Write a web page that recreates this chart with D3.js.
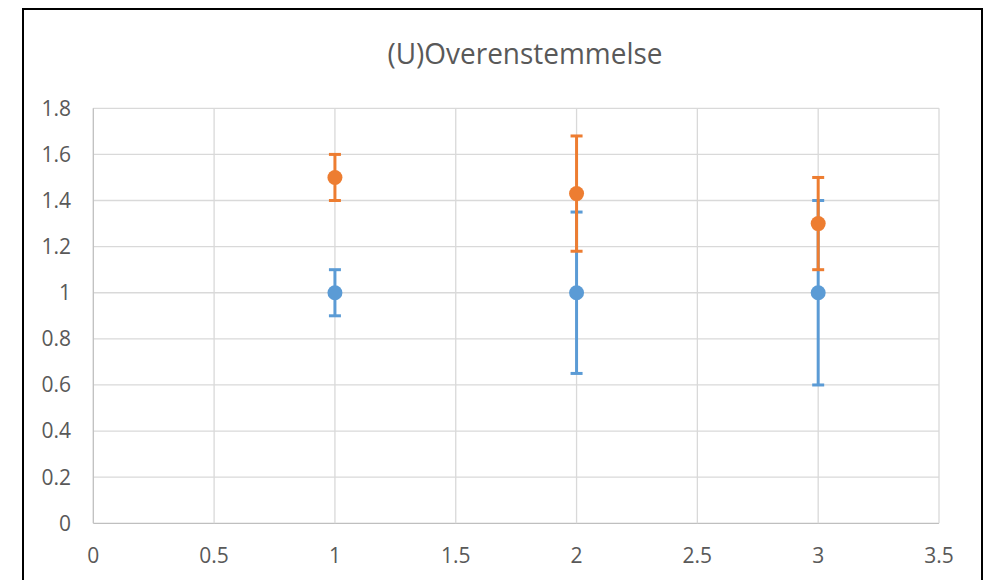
<!DOCTYPE html>
<html>
<head>
<meta charset="utf-8">
<script src="https://cdn.jsdelivr.net/npm/d3@7"></script>
<style>
  body { margin: 0; background: #fff; }
  text { font-family: "Open Sans", sans-serif; fill: #595959; }
</style>
</head>
<body>
<svg width="987" height="580"></svg>
<script>
let svg = d3.select("svg")

// data
let title = "(U)Overenstemmelse"
let xs = [1, 2, 3]
let blueY = [1, 1, 1]
let blueErr = [0.1, 0.35, 0.4]
let orangeY = [1.5, 1.43, 1.3]
let orangeErr = [0.1, 0.25, 0.2]
let xTicks = [0, 0.5, 1, 1.5, 2, 2.5, 3, 3.5]
let yTicks = [0, 0.2, 0.4, 0.6, 0.8, 1, 1.2, 1.4, 1.6, 1.8]

let plotL = 93.3, plotR = 939, plotT = 108.3, plotB = 523.3

let x = d3.scaleLinear().domain([0, 3.5]).range([plotL, plotR])
let y = d3.scaleLinear().domain([0, 1.8]).range([plotB, plotT])

// outer chart border (bottom edge is cut off in the reference)
svg.append("rect")
  .attr("x", 23).attr("y", 9)
  .attr("width", 959).attr("height", 620)
  .attr("fill", "none")
  .attr("stroke", "#000")
  .attr("stroke-width", 2)

svg.append("text")
  .attr("x", 525).attr("y", 64)
  .attr("text-anchor", "middle")
  .attr("font-size", 30)
  .attr("textLength", 275)
  .attr("lengthAdjust", "spacingAndGlyphs")
  .text(title)

// grid
svg.append("g").selectAll("line").data(yTicks).join("line")
  .attr("x1", plotL).attr("x2", plotR)
  .attr("y1", d => y(d)).attr("y2", d => y(d))
  .attr("stroke", d => d === 0 ? "#bfbfbf" : "#d9d9d9")
  .attr("stroke-width", 1.3)

svg.append("g").selectAll("line").data(xTicks).join("line")
  .attr("x1", d => x(d)).attr("x2", d => x(d))
  .attr("y1", plotT).attr("y2", plotB)
  .attr("stroke", d => d === 0 ? "#bfbfbf" : "#d9d9d9")
  .attr("stroke-width", 1.3)

// tick labels
svg.append("g").selectAll("text").data(yTicks).join("text")
  .attr("x", 71).attr("y", d => y(d))
  .attr("dy", "0.35em")
  .attr("text-anchor", "end")
  .attr("font-size", 21)
  .text(d => d)

svg.append("g").selectAll("text").data(xTicks).join("text")
  .attr("x", d => x(d)).attr("y", 563)
  .attr("text-anchor", "middle")
  .attr("font-size", 21)
  .text(d => d)

let drawErrors = (ys, errs, color) => {
  let g = svg.append("g").attr("stroke", color).attr("stroke-width", 3)
  xs.forEach((xv, i) => {
    g.append("line")
      .attr("x1", x(xv)).attr("x2", x(xv))
      .attr("y1", y(ys[i] - errs[i])).attr("y2", y(ys[i] + errs[i]))
    ;[ys[i] - errs[i], ys[i] + errs[i]].forEach(v => {
      g.append("line")
        .attr("x1", x(xv) - 6).attr("x2", x(xv) + 6)
        .attr("y1", y(v)).attr("y2", y(v))
    })
  })
}

let drawPoints = (ys, color) => {
  svg.append("g").selectAll("circle").data(xs).join("circle")
    .attr("cx", d => x(d))
    .attr("cy", (d, i) => y(ys[i]))
    .attr("r", 7.5)
    .attr("fill", color)
}

drawErrors(blueY, blueErr, "#5b9bd5")
drawErrors(orangeY, orangeErr, "#ed7d31")
drawPoints(blueY, "#5b9bd5")
drawPoints(orangeY, "#ed7d31")
</script>
</body>
</html>
